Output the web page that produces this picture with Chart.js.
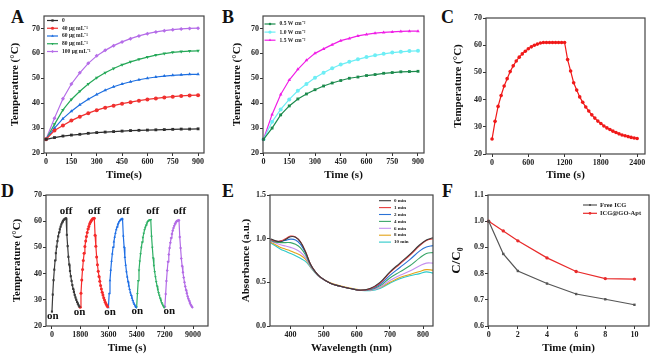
<!DOCTYPE html>
<html>
<head>
<meta charset="utf-8">
<script src="https://cdn.jsdelivr.net/npm/chart.js@4.4.1/dist/chart.umd.min.js"></script>
<style>
  html, body { margin: 0; padding: 0; background: #fff; }
  #fig { position: relative; width: 669px; height: 364px; overflow: hidden; }
  #fig canvas { position: absolute; }
  .tag { position: absolute; font: bold 18px "Liberation Serif", "Times New Roman", serif; line-height: 18px; color: #111; }
</style>
</head>
<body>
<div id="fig">
  <div class="tag" style="left:11px;top:8px">A</div>
  <div class="tag" style="left:222px;top:8px">B</div>
  <div class="tag" style="left:441px;top:8px">C</div>
  <div class="tag" style="left:1px;top:182px">D</div>
  <div class="tag" style="left:222px;top:182px">E</div>
  <div class="tag" style="left:442px;top:182px">F</div>
  <canvas id="chartA"></canvas>
  <canvas id="chartB"></canvas>
  <canvas id="chartC"></canvas>
  <canvas id="chartD"></canvas>
  <canvas id="chartE"></canvas>
  <canvas id="chartF"></canvas>
</div>
<script>
// ==================== Data ====================

// A: concentration series, 808 nm heating
const timeA = [0, 50, 100, 150, 200, 250, 300, 350, 400, 450, 500, 550, 600, 650, 700, 750, 800, 850, 900];
const tempA0 = [25.5, 26.2, 26.8, 27.2, 27.5, 27.9, 28.2, 28.4, 28.6, 28.8, 29.0, 29.1, 29.2, 29.3, 29.4, 29.5, 29.6, 29.6, 29.7];
const tempA40 = [25.5, 29.0, 31.0, 33.0, 34.6, 36.0, 37.2, 38.2, 39.0, 39.8, 40.4, 41.0, 41.5, 41.9, 42.3, 42.6, 42.9, 43.1, 43.2];
const tempA60 = [25.5, 30.0, 33.8, 36.8, 39.4, 41.6, 43.5, 45.2, 46.6, 47.7, 48.6, 49.4, 50.0, 50.5, 50.9, 51.2, 51.4, 51.6, 51.6];
const tempA80 = [25.5, 31.5, 37.3, 41.5, 44.8, 47.7, 50.2, 52.2, 53.9, 55.4, 56.6, 57.6, 58.5, 59.3, 59.9, 60.4, 60.7, 60.9, 61.0];
const tempA100 = [25.5, 34.0, 41.8, 47.7, 52.2, 56.0, 59.0, 61.2, 63.1, 64.6, 65.9, 67.0, 67.9, 68.6, 69.1, 69.5, 69.8, 70.0, 70.1];
const labelsA = ['0', '40 μg mL⁻¹', '60 μg mL⁻¹', '80 μg mL⁻¹', '100 μg mL⁻¹'];
const ticksTime900 = [0, 150, 300, 450, 600, 750, 900];
const ticksTemp = [20, 30, 40, 50, 60, 70];

// B: power density series
const timeB = [0, 50, 100, 150, 200, 250, 300, 350, 400, 450, 500, 550, 600, 650, 700, 750, 800, 850, 900];
const tempB05 = [25.5, 30.0, 35.3, 38.9, 41.7, 43.7, 45.4, 46.9, 48.1, 49.1, 50.0, 50.5, 51.1, 51.5, 52.0, 52.3, 52.6, 52.7, 52.8];
const tempB10 = [25.5, 32.5, 37.5, 41.5, 45.0, 47.7, 50.2, 52.2, 54.0, 55.5, 56.6, 57.6, 58.5, 59.2, 59.8, 60.3, 60.6, 60.9, 61.0];
const tempB15 = [25.5, 35.5, 43.5, 49.3, 53.6, 57.2, 60.0, 61.8, 63.5, 65.1, 66.0, 67.0, 67.6, 68.1, 68.4, 68.6, 68.8, 68.9, 68.9];
const labelsB = ['0.5 W cm⁻²', '1.0 W cm⁻²', '1.5 W cm⁻²'];

// C: heating / cooling
const timeC = [0, 50, 100, 150, 200, 250, 300, 350, 400, 450, 500, 550, 600, 650, 700, 750, 800, 850, 900, 950, 1000, 1050, 1100, 1150, 1200,
  1250, 1300, 1350, 1400, 1450, 1500, 1550, 1600, 1650, 1700, 1750, 1800, 1850, 1900, 1950, 2000, 2050, 2100, 2150, 2200, 2250, 2300, 2350, 2400];
const tempC = [25.5, 32.0, 37.5, 41.5, 45.0, 47.7, 50.3, 52.4, 54.2, 55.6, 56.8, 57.8, 58.7, 59.4, 60.0, 60.4, 60.8, 61.0, 61.0, 61.0, 61.0, 61.0, 61.0, 61.0, 61.0,
  54.7, 50.5, 46.2, 43.5, 41.0, 39.0, 37.3, 35.8, 34.4, 33.2, 32.1, 31.2, 30.3, 29.6, 29.0, 28.4, 27.9, 27.4, 27.0, 26.7, 26.4, 26.1, 25.9, 25.7];
const ticksTimeC = [0, 600, 1200, 1800, 2400];

// D: five on/off cycles
const cycleStarts = [0, 1800, 3600, 5400, 7200];
const cycleTimes = [0, 50, 100, 150, 200, 250, 300, 350, 400, 450, 500, 550, 600, 650, 700, 750, 800, 850, 900,
  950, 1000, 1050, 1100, 1150, 1200, 1250, 1300, 1350, 1400, 1450, 1500, 1550, 1600, 1650, 1700, 1750];
const tempD1 = [25.5, 32.0, 37.5, 41.5, 45.0, 47.8, 50.3, 52.4, 54.2, 55.7, 56.9, 57.9, 58.8, 59.5, 60.1, 60.5, 60.8, 61.0, 61.1,
  54.8, 50.5, 46.4, 43.5, 41.0, 39.0, 37.2, 35.6, 34.2, 33.0, 31.9, 30.9, 30.0, 29.2, 28.5, 27.9, 27.4];
const tempD2 = [27.2, 32.5, 37.6, 41.6, 45.0, 47.8, 50.3, 52.4, 54.2, 55.7, 57.0, 58.0, 58.9, 59.6, 60.2, 60.6, 60.9, 61.0, 61.1,
  54.6, 50.4, 46.3, 43.4, 40.9, 38.9, 37.1, 35.5, 34.1, 32.9, 31.8, 30.8, 29.9, 29.1, 28.4, 27.8, 27.3];
const tempD3 = [27.1, 32.4, 37.4, 41.4, 44.8, 47.6, 50.1, 52.2, 54.0, 55.5, 56.8, 57.8, 58.7, 59.4, 60.0, 60.4, 60.7, 60.8, 60.9,
  54.4, 50.2, 46.2, 43.3, 40.8, 38.8, 37.0, 35.4, 34.0, 32.8, 31.7, 30.7, 29.8, 29.0, 28.3, 27.7, 27.2];
const tempD4 = [27.2, 32.3, 37.3, 41.3, 44.7, 47.5, 50.0, 52.0, 53.8, 55.3, 56.6, 57.6, 58.5, 59.2, 59.8, 60.2, 60.4, 60.5, 60.6,
  54.2, 50.0, 46.0, 43.1, 40.7, 38.7, 36.9, 35.3, 33.9, 32.7, 31.6, 30.6, 29.7, 28.9, 28.2, 27.6, 27.1];
const tempD5 = [27.3, 32.2, 37.2, 41.2, 44.5, 47.3, 49.8, 51.8, 53.6, 55.1, 56.4, 57.4, 58.3, 59.0, 59.6, 60.0, 60.2, 60.3, 60.4,
  54.0, 49.8, 45.8, 42.9, 40.5, 38.5, 36.7, 35.1, 33.7, 32.5, 31.4, 30.4, 29.6, 28.8, 28.1, 27.6, 27.2];
const offX = [900, 2700, 4540, 6420, 8150];
const offY = [63.8, 63.8, 63.8, 63.8, 63.8];
const onX = [60, 1755, 3710, 5450, 7480];
const onY = [23.9, 25.1, 25.1, 25.5, 25.7];
const ticksTimeD = [0, 1800, 3600, 5400, 7200, 9000];

// E: absorbance spectra
const waveE = [340, 355, 370, 385, 400, 415, 430, 445, 460, 475, 490, 520, 550, 580, 610, 640, 670, 700, 730, 760, 790, 810, 830];
const absE0 = [1.0, 0.975, 0.965, 0.99, 1.022, 1.015, 0.96, 0.85, 0.71, 0.62, 0.56, 0.49, 0.455, 0.43, 0.41, 0.43, 0.5, 0.62, 0.72, 0.82, 0.93, 0.985, 1.01];
const absE1 = [0.99, 0.97, 0.975, 1.0, 1.03, 1.02, 0.965, 0.855, 0.71, 0.62, 0.56, 0.49, 0.455, 0.43, 0.41, 0.425, 0.49, 0.61, 0.71, 0.81, 0.92, 0.98, 1.0];
const absE2 = [0.99, 0.97, 0.97, 0.98, 0.995, 0.985, 0.935, 0.84, 0.705, 0.62, 0.56, 0.49, 0.455, 0.43, 0.41, 0.42, 0.475, 0.58, 0.67, 0.76, 0.86, 0.905, 0.92];
const absE4 = [0.98, 0.96, 0.955, 0.955, 0.955, 0.935, 0.895, 0.815, 0.695, 0.615, 0.56, 0.49, 0.455, 0.43, 0.41, 0.415, 0.46, 0.55, 0.62, 0.69, 0.78, 0.83, 0.84];
const absE6 = [0.97, 0.95, 0.93, 0.915, 0.9, 0.88, 0.845, 0.785, 0.685, 0.61, 0.555, 0.49, 0.455, 0.43, 0.41, 0.41, 0.445, 0.52, 0.58, 0.63, 0.69, 0.72, 0.72];
const absE8 = [0.96, 0.93, 0.9, 0.88, 0.86, 0.835, 0.81, 0.765, 0.68, 0.61, 0.555, 0.495, 0.46, 0.435, 0.415, 0.41, 0.44, 0.5, 0.555, 0.59, 0.625, 0.645, 0.64];
const absE10 = [0.95, 0.915, 0.88, 0.855, 0.83, 0.805, 0.775, 0.74, 0.675, 0.605, 0.555, 0.49, 0.455, 0.43, 0.41, 0.405, 0.43, 0.49, 0.54, 0.575, 0.6, 0.62, 0.605];
const labelsE = ['0 min', '1 min', '2 min', '4 min', '6 min', '8 min', '10 min'];
const ticksWave = [400, 500, 600, 700, 800];
const ticksAbs = [0, 0.5, 1.0, 1.5];

// F: photostability
const timeF = [0, 1, 2, 4, 6, 8, 10];
const freeICG = [1.0, 0.875, 0.81, 0.762, 0.722, 0.702, 0.681];
const goApt = [1.0, 0.963, 0.925, 0.86, 0.808, 0.781, 0.779];
const labelsF = ['Free ICG', 'ICG@GO-Apt'];
const ticksMin = [0, 2, 4, 6, 8, 10];
const ticksRatio = [0.6, 0.7, 0.8, 0.9, 1.0, 1.1];

// ==================== Helpers ====================

const SERIF = '"Liberation Serif", "Times New Roman", serif';

function series(label, xs, ys, color, style, extra) {
  return Object.assign({
    label: label,
    data: xs.map((x, i) => ({ x: x, y: ys[i] })),
    borderColor: color,
    backgroundColor: color,
    borderWidth: 1.2,
    pointRadius: 2,
    pointStyle: style,
    pointBorderWidth: 0,
    tension: 0,
    clip: false
  }, extra || {});
}

// linear axis with fixed tick values
function axis(min, max, tickValues, title, fmt, size) {
  return {
    type: 'linear', min: min, max: max,
    afterBuildTicks: s => { s.ticks = tickValues.map(v => ({ value: v })); },
    border: { display: false },
    grid: { drawOnChartArea: false, tickLength: 3, color: '#333', lineWidth: 1 },
    ticks: {
      autoSkip: false, maxRotation: 0, padding: 1,
      color: '#222', font: { family: SERIF, size: 8, weight: 'bold' },
      callback: fmt || (v => String(v))
    },
    title: { display: true, text: title, color: '#111', padding: 0, font: { family: SERIF, size: size || 11, weight: 'bold' } }
  };
}

// box around the plot area
const frame = {
  id: 'frame',
  afterDatasetsDraw(chart) {
    const a = chart.chartArea, ctx = chart.ctx;
    ctx.save();
    ctx.strokeStyle = '#444';
    ctx.lineWidth = 1.2;
    ctx.strokeRect(a.left, a.top, a.right - a.left, a.bottom - a.top);
    ctx.restore();
  }
};

// small legend inside the plot
const legendBox = {
  id: 'legendBox',
  afterDraw(chart, args, opts) {
    if (!opts.show) return;
    const ctx = chart.ctx, a = chart.chartArea;
    ctx.save();
    ctx.font = 'bold ' + opts.size + 'px ' + SERIF;
    ctx.textBaseline = 'middle';
    chart.data.datasets.forEach((ds, i) => {
      const y = a.top + opts.dy + i * opts.row;
      const x0 = a.left + opts.dx;
      ctx.strokeStyle = ds.borderColor;
      ctx.lineWidth = ds.borderWidth;
      ctx.beginPath();
      ctx.moveTo(x0, y);
      ctx.lineTo(x0 + opts.line, y);
      ctx.stroke();
      if (ds.pointRadius > 0) {
        ctx.fillStyle = ds.backgroundColor;
        Chart.helpers.drawPoint(ctx, {
          pointStyle: ds.pointStyle, radius: ds.pointRadius * 0.8,
          borderWidth: 0, rotation: ds.pointRotation || 0
        }, x0 + opts.line / 2, y);
      }
      ctx.fillStyle = '#222';
      ctx.fillText(ds.label, x0 + opts.line + opts.gap, y);
    });
    ctx.restore();
  }
};

// on / off notes for panel D
const notes = {
  id: 'notes',
  afterDatasetsDraw(chart, args, opts) {
    if (!opts.items) return;
    const ctx = chart.ctx, xs = chart.scales.x, ys = chart.scales.y;
    ctx.save();
    ctx.font = 'bold 11px ' + SERIF;
    ctx.fillStyle = '#111';
    ctx.textAlign = 'center';
    ctx.textBaseline = 'middle';
    opts.items.forEach(n => ctx.fillText(n.text, xs.getPixelForValue(n.x), ys.getPixelForValue(n.y)));
    ctx.restore();
  }
};

// box: l,t,r,b of the plot area; yw: room left of it; xb: canvas bottom
function makePanel(id, box, datasets, scales, pluginOpts) {
  const c = document.getElementById(id);
  const left = box.l - box.yw, top = box.t - 8;
  const w = box.r - left + 10, h = box.xb - top;
  c.style.left = left + 'px';
  c.style.top = top + 'px';
  c.width = w; c.height = h;
  c.style.width = w + 'px'; c.style.height = h + 'px';
  scales.x.afterFit = s => { s.height = box.xb - box.b; };
  scales.y.afterFit = s => { s.width = box.yw; };
  return new Chart(c.getContext('2d'), {
    type: 'line',
    data: { datasets: datasets },
    options: {
      responsive: false,
      animation: false,
      devicePixelRatio: 1,
      layout: { padding: { left: 0, top: 8, right: 10, bottom: 0 } },
      scales: scales,
      plugins: Object.assign({ legend: { display: false }, tooltip: { enabled: false } }, pluginOpts || {})
    },
    plugins: [frame, legendBox, notes]
  });
}

const fmt1 = v => v.toFixed(1);

// ==================== Panels ====================

makePanel('chartA', { l: 44, t: 16, r: 204, b: 153, yw: 35, xb: 182 }, [
  series(labelsA[0], timeA, tempA0, '#2e2e2e', 'rect'),
  series(labelsA[1], timeA, tempA40, '#f0302f', 'circle'),
  series(labelsA[2], timeA, tempA60, '#1e6fe0', 'triangle'),
  series(labelsA[3], timeA, tempA80, '#25a858', 'triangle', { pointRotation: 180 }),
  series(labelsA[4], timeA, tempA100, '#b56de8', 'rectRot')
], {
  x: axis(-12, 935, ticksTime900, 'Time(s)'),
  y: axis(20, 75, ticksTemp, 'Temperature (°C)')
}, { legendBox: { show: true, dx: 3, dy: 4.5, row: 7.75, line: 11, gap: 4, size: 5.5 } });

makePanel('chartB', { l: 263, t: 16, r: 424, b: 153, yw: 32, xb: 182 }, [
  series(labelsB[0], timeB, tempB05, '#1b8a4c', 'rect'),
  series(labelsB[1], timeB, tempB10, '#6eeef5', 'circle'),
  series(labelsB[2], timeB, tempB15, '#f01ee6', 'triangle')
], {
  x: axis(-3, 935, ticksTime900, 'Time (s)'),
  y: axis(20, 75, ticksTemp, 'Temperature (°C)')
}, { legendBox: { show: true, dx: 1.5, dy: 8, row: 8.1, line: 11, gap: 4, size: 5.5 } });

makePanel('chartC', { l: 486, t: 18, r: 645, b: 154, yw: 34, xb: 182 }, [
  series('C', timeC, tempC, '#f01818', 'circle', { pointRadius: 1.8 })
], {
  x: axis(-100, 2530, ticksTimeC, 'Time (s)'),
  y: axis(20, 70, ticksTemp, 'Temperature (°C)')
});

const cycleColors = ['#3a3a3a', '#f52a2a', '#1f6fe5', '#2fb065', '#b36be6'];
const cycleStyles = ['rect', 'circle', 'triangle', 'triangle', 'rectRot'];
const cycleTemps = [tempD1, tempD2, tempD3, tempD4, tempD5];
const noteItems = offX.map((x, i) => ({ x: x, y: offY[i], text: 'off' }))
  .concat(onX.map((x, i) => ({ x: x, y: onY[i], text: 'on' })));

makePanel('chartD', { l: 46, t: 195, r: 208, b: 326, yw: 35, xb: 355 },
  cycleTemps.map((ys, k) => series('cycle ' + (k + 1), cycleTimes.map(t => cycleStarts[k] + t), ys,
    cycleColors[k], cycleStyles[k], { pointRadius: 1.5, pointRotation: k === 3 ? 180 : 0 })), {
  x: axis(-380, 9950, ticksTimeD, 'Time (s)'),
  y: axis(20, 70, ticksTemp, 'Temperature (°C)')
}, { notes: { items: noteItems } });

const specColors = ['#3c3c3c', '#e63a3a', '#2a72d6', '#3aa66a', '#c590f0', '#e3a318', '#2cc9c9'];
const specData = [absE0, absE1, absE2, absE4, absE6, absE8, absE10];

makePanel('chartE', { l: 270, t: 195, r: 433, b: 326, yw: 30, xb: 355 },
  specData.map((ys, k) => series(labelsE[k], waveE, ys, specColors[k], 'circle',
    { pointRadius: 0, tension: 0.4, borderWidth: 1.1 })), {
  x: axis(338, 830, ticksWave, 'Wavelength (nm)'),
  y: axis(0, 1.5, ticksAbs, 'Absorbance (a.u.)', fmt1)
}, { legendBox: { show: true, dx: 109, dy: 5.7, row: 6.9, line: 12, gap: 3, size: 5 } });

makePanel('chartF', { l: 488, t: 195, r: 649, b: 326, yw: 39, xb: 355 }, [
  series(labelsF[0], timeF, freeICG, '#555555', 'rect', { pointRadius: 1.7 }),
  series(labelsF[1], timeF, goApt, '#e82a2a', 'circle', { pointRadius: 1.7 })
], {
  x: axis(-0.05, 11, ticksMin, 'Time (min)'),
  y: axis(0.6, 1.1, ticksRatio, 'C/C₀', fmt1, 13)
}, { legendBox: { show: true, dx: 95, dy: 10, row: 8.3, line: 14, gap: 3, size: 6.5 } });
</script>
</body>
</html>
